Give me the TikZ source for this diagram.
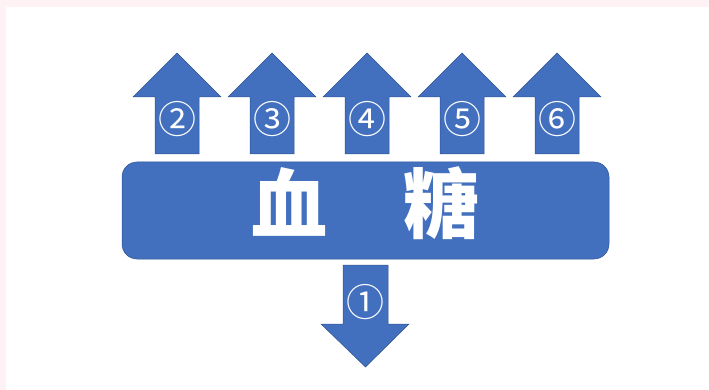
\documentclass[tikz,border=0pt]{standalone}
\usepackage{fontspec}
\newfontfamily\cjk{Noto Sans CJK SC}
\definecolor{pinkbg}{HTML}{FEF2F4}
\definecolor{blueF}{HTML}{4270BF}
\definecolor{blueD}{HTML}{2F528F}
\begin{document}
\begin{tikzpicture}[x=1pt,y=-1pt,
  shapest/.style={fill=blueF,draw=blueD,line width=0.5pt},
  num/.style={text=white,font=\cjk\fontsize{38}{38}\selectfont,inner sep=0pt},
  title/.style={text=white,font=\cjk\bfseries\fontsize{76}{76}\selectfont,inner sep=0pt}]
\useasboundingbox (0,0) rectangle (709,390);
\fill[pinkbg] (0,0) rectangle (709,7);
\fill[pinkbg] (0,0) rectangle (6,390);
% main box
\node[shapest,rounded corners=15pt,minimum width=487pt,minimum height=97pt,inner sep=0pt] (box) at (365.5,210.5) {};
\node[title] (t) at (365,203) {血　糖};
% up arrows
\foreach \n/\c/\cx in {2/②/177,3/③/272,4/④/367,5/⑤/462,6/⑥/557}{
  \filldraw[shapest] (\cx-22,154) -- (\cx-22,97) -- (\cx-44,97) -- (\cx,53) -- (\cx+44,97) -- (\cx+22,97) -- (\cx+22,154) -- cycle;
  \node[num] (n\n) at (\cx,119) {\c};
}
% down arrow
\filldraw[shapest] (343,265) -- (388,265) -- (388,324) -- (409,324) -- (365.5,367) -- (321,324) -- (343,324) -- cycle;
\node[num] (n1) at (365,302) {①};
\end{tikzpicture}
\end{document}
